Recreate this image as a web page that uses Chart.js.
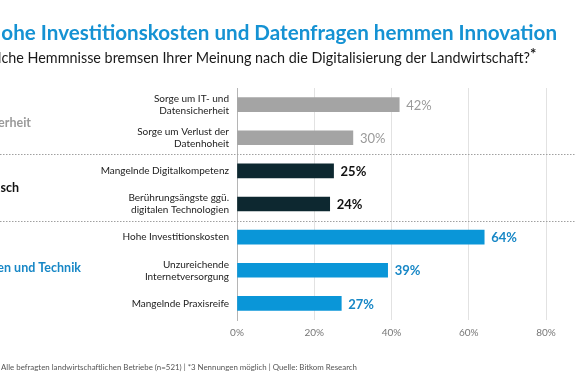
<!DOCTYPE html>
<html><head><meta charset="utf-8">
<script src="https://cdn.jsdelivr.net/npm/chart.js@4/dist/chart.umd.min.js"></script>
<style>html,body{margin:0;padding:0;background:#fff;}#wrap{width:575px;height:383px;position:relative;}</style>
</head><body><div id="wrap"><canvas id="c" width="575" height="383"></canvas></div>
<script>
const categories = [
  ["Sorge um IT- und", "Datensicherheit"],
  ["Sorge um Verlust der", "Datenhoheit"],
  ["Mangelnde Digitalkompetenz"],
  ["Berührungsängste ggü.", "digitalen Technologien"],
  ["Hohe Investitionskosten"],
  ["Unzureichende", "Internetversorgung"],
  ["Mangelnde Praxisreife"]
];
const values = [42, 30, 25, 24, 64, 39, 27];
const groupOfBar = [0, 0, 1, 1, 2, 2, 2];
const groupNames = ["Datenschutz und Datensicherheit", "Kompetenz und Wissensaustausch", "Kosten und Technik"];
const xTicks = [0, 20, 40, 60, 80];
const titleText = "Hohe Investitionskosten und Datenfragen hemmen Innovation";
const subtitleText = "Welche Hemmnisse bremsen Ihrer Meinung nach die Digitalisierung der Landwirtschaft?";
const footText = "Basis: Alle befragten landwirtschaftlichen Betriebe (n=521) | *3 Nennungen möglich | Quelle: Bitkom Research";

const FONT = "Lato, 'Open Sans', sans-serif";
const barColors = ["#a4a4a4", "#0d2830", "#0a96d8"];
const labelColors = ["#9a9a9a", "#111111", "#1787c6"];
const labelWeights = ["normal", "bold", "bold"];
const groupColors = ["#9a9a9a", "#111111", "#1787c6"];

function fitFont(ctx, weight, text, target) {
  ctx.font = weight + " 20px " + FONT;
  const w = ctx.measureText(text).width;
  return 20 * target / w;
}

const decor = {
  id: 'decor',
  afterDraw(chart) {
    const ctx = chart.ctx;
    ctx.save();
    ctx.textBaseline = 'alphabetic';
    // title
    let s = fitFont(ctx, 'bold', titleText.slice(1), 556);
    ctx.font = 'bold ' + s + 'px ' + FONT;
    ctx.fillStyle = '#1592d3';
    ctx.textAlign = 'right';
    ctx.fillText(titleText, 557, 40);
    // subtitle
    s = fitFont(ctx, 'normal', subtitleText.slice(3), 529);
    ctx.font = 'normal ' + s + 'px ' + FONT;
    ctx.fillStyle = '#1a1a1a';
    ctx.fillText(subtitleText, 530, 63);
    ctx.textAlign = 'left';
    ctx.font = 'bold 15px ' + FONT;
    ctx.fillText('*', 530, 59);
    // footnote
    ctx.textAlign = 'right';
    s = fitFont(ctx, 'normal', footText.slice(7), 357);
    ctx.font = 'normal ' + s + 'px ' + FONT;
    ctx.fillStyle = '#555555';
    ctx.fillText(footText, 357, 370);
    // group labels
    const yScale = chart.scales.y;
    ctx.font = 'bold 12.5px ' + FONT;
    ctx.textBaseline = 'middle';
    const gy = [ (yScale.getPixelForValue(0)+yScale.getPixelForValue(1))/2 + 2,
                 (yScale.getPixelForValue(2)+yScale.getPixelForValue(3))/2 + 1,
                 yScale.getPixelForValue(5) - 2 ];
    const gx = [31, 19, 81];
    for (let g = 0; g < 3; g++) {
      ctx.fillStyle = groupColors[g];
      ctx.fillText(groupNames[g], gx[g], gy[g]);
    }
    // separators
    ctx.strokeStyle = '#a0a0a0';
    ctx.lineWidth = 1;
    ctx.setLineDash([1.5, 1.5]);
    [1, 3].forEach(i => {
      const y = Math.round((yScale.getPixelForValue(i) + yScale.getPixelForValue(i+1))/2) + 0.5;
      ctx.beginPath(); ctx.moveTo(0, y); ctx.lineTo(575, y); ctx.stroke();
    });
    ctx.setLineDash([]);
    // value labels
    const meta = chart.getDatasetMeta(0);
    ctx.textAlign = 'left';
    meta.data.forEach((bar, i) => {
      const g = groupOfBar[i];
      ctx.font = labelWeights[g] + ' 13px ' + FONT;
      ctx.fillStyle = labelColors[g];
      ctx.fillText(values[i] + '%', bar.x + 7, bar.y + 1);
    });
    ctx.restore();
  }
};

new Chart(document.getElementById('c'), {
  type: 'bar',
  data: {
    labels: categories,
    datasets: [{
      data: values,
      backgroundColor: groupOfBar.map(g => barColors[g]),
      barThickness: 14,
      borderWidth: 0
    }]
  },
  options: {
    indexAxis: 'y',
    responsive: false,
    animation: false,
    layout: { padding: { top: 88, right: 29, left: 0, bottom: 0 } },
    plugins: { legend: { display: false }, tooltip: { enabled: false } },
    scales: {
      x: {
        min: 0, max: 80,
        afterBuildTicks(scale) { scale.ticks = xTicks.map(v => ({ value: v })); },
        afterFit(scale) { scale.height = 63; },
        grid: { color: '#e2e2e2', drawTicks: false, lineWidth: 1 },
        border: { display: false },
        ticks: { padding: 7, color: '#777', font: { family: FONT, size: 10 }, callback: v => v + '%' }
      },
      y: {
        afterFit(scale) { scale.width = 237; },
        grid: { display: false, drawTicks: false },
        border: { display: true, color: '#b5b5b5', width: 1 },
        ticks: { padding: 8, color: '#222', font: { family: FONT, size: 10, lineHeight: 1.2 } }
      }
    }
  },
  plugins: [decor]
});
</script></body></html>
